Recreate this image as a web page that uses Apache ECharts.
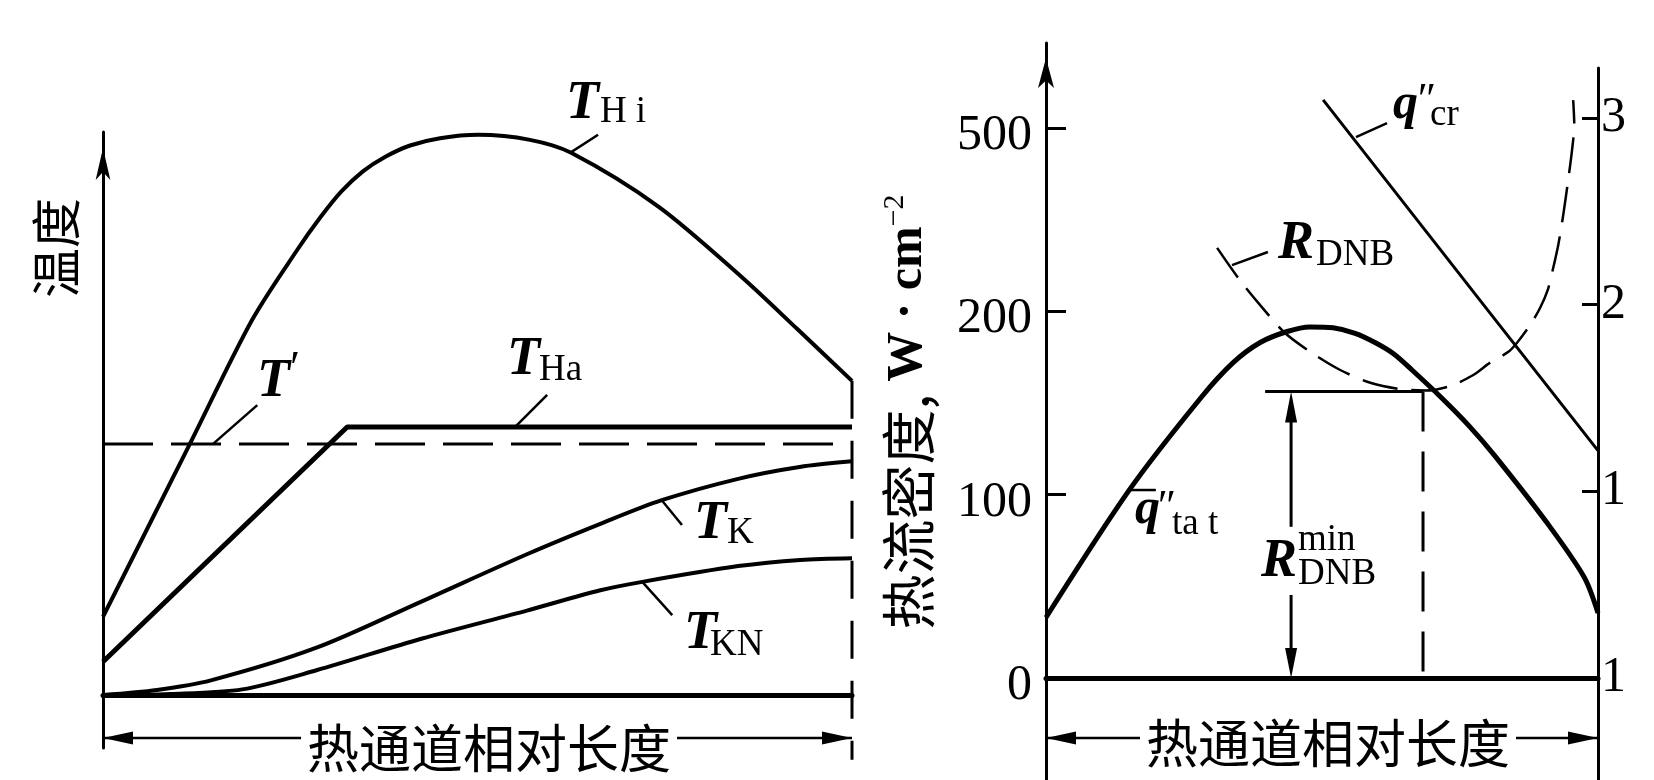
<!DOCTYPE html>
<html>
<head>
<meta charset="utf-8">
<script src="https://cdn.jsdelivr.net/npm/echarts@6/dist/echarts.min.js"></script>
<style>
  html, body { margin: 0; padding: 0; background: #fff; }
  #chart { width: 1654px; height: 780px; }
</style>
</head>
<body>
<div id="chart"></div>
<script>
// ================= DATA =================
// Left panel: x = relative length of hot channel (0..1), y = temperature (relative units, 0..100)
const T_Hi    = [[0,13.9],[0.116,44.6],[0.199,66.6],[0.259,79.0],[0.29,84.8],[0.318,89.4],[0.347,93.0],[0.377,95.6],[0.41,97.6],[0.45,98.9],[0.501,99.5],[0.57,98.6],[0.625,96.3],[0.742,86.7],[0.853,74.2],[0.927,65.0],[1,55.8]];
const T_Ha    = [[0,5.9],[0.326,47.6],[1,47.6]];
const T_prime = [[0,44.6],[1,44.6]];
const T_K     = [[0,0],[0.072,0.9],[0.144,2.6],[0.285,8.4],[0.425,16.6],[0.566,25.0],[0.664,30.4],[0.746,34.6],[0.848,38.4],[0.93,40.5],[1,41.5]];
const T_KN    = [[0,0],[0.09,0.2],[0.186,1.0],[0.285,4.4],[0.425,10.0],[0.566,15.0],[0.664,18.6],[0.72,20.1],[0.848,22.9],[0.931,24.0],[1,24.3]];
const T_endBottom = -11.5;            // bottom end of the dashed outlet line

// Right panel: heat flux in W·cm^-2 (broken scale with equally spaced ticks)
const qTickValues = [0, 100, 200, 500];
const qTickLabels = ['0', '100', '200', '500'];
const q_tat = [[0,33],[0.152,103],[0.281,153],[0.339,172],[0.388,183],[0.437,189],[0.478,191.5],[0.52,191],[0.56,188],[0.596,183],[0.629,177],[0.663,168],[0.716,153],[0.768,137],[0.815,120.5],[0.908,84.5],[0.975,55],[1,35.5]];
const q_cr  = [[0.502,546],[0.802,200],[1,124]];

// DNB ratio on the right-hand axis (values in tick positions, labels as printed)
const rTickLabels = ['1', '1', '2', '3'];
const R_DNB = [[0.310,2.304],[0.351,2.132],[0.391,1.987],[0.433,1.848],[0.482,1.741],[0.533,1.650],[0.589,1.580],[0.641,1.548],[0.687,1.540],[0.732,1.564],[0.774,1.623],[0.804,1.688],[0.837,1.746],[0.853,1.795],[0.877,1.891],[0.895,1.982],[0.909,2.079],[0.918,2.186],[0.928,2.320],[0.937,2.480],[0.946,2.668],[0.953,2.829],[0.957,2.962],[0.955,3.096]];
const R_min_value = 1.535;
const R_min_x = 0.683;
const R_min_bracketStart = 0.397;
const R_min_arrowX = 0.444;

// Map a heat flux value to the equally spaced tick position of the broken axis
function qToAxis(w) {
  for (let i = 0; i < qTickValues.length - 1; i++) {
    const a = qTickValues[i], b = qTickValues[i + 1];
    if (w <= b || i === qTickValues.length - 2) return i + (w - a) / (b - a);
  }
  return 0;
}

// ================= CHART =================
const chart = echarts.init(document.getElementById('chart'), null, { renderer: 'canvas' });
const BLACK = '#000';
const SERIF = '"Liberation Serif", "DejaVu Serif", serif';
const CJK = '"Noto Sans CJK SC", "Noto Sans CJK JP", sans-serif';

function lineSer(name, data, idx, width, extra) {
  return Object.assign({
    name, type: 'line', data, xAxisIndex: idx, yAxisIndex: idx,
    symbol: 'none', showSymbol: false, clip: false, silent: true,
    lineStyle: { color: BLACK, width: width }
  }, extra || {});
}

const hiddenX = (gi, showLine) => ({
  type: 'value', gridIndex: gi, min: 0, max: 1, show: true,
  axisLine: { show: !!showLine, onZero: true, lineStyle: { color: BLACK, width: 5 } },
  axisTick: { show: false }, axisLabel: { show: false }, splitLine: { show: false }
});

const option = {
  animation: false,
  backgroundColor: '#fff',
  grid: [
    { left: 103, right: 802, top: 132, bottom: 32, outerBoundsMode: 'none', containLabel: false },
    { left: 1046, right: 56, top: 43, bottom: 0, outerBoundsMode: 'none', containLabel: false },
    { left: 1046, right: 56, top: 68, bottom: 0, outerBoundsMode: 'none', containLabel: false }
  ],
  xAxis: [hiddenX(0, true), hiddenX(1, true), hiddenX(2, false)],
  yAxis: [
    {
      type: 'value', gridIndex: 0, min: -9.41, max: 100,
      axisLine: { show: true, onZero: false, symbol: ['none', 'arrow'], symbolSize: [11, 32], symbolOffset: [0, -16],
                  lineStyle: { color: BLACK, width: 3 } },
      axisTick: { show: false }, axisLabel: { show: false }, splitLine: { show: false }
    },
    {
      type: 'value', gridIndex: 1, min: -0.5564, max: 3.4637,
      axisLine: { show: true, onZero: false, symbol: ['none', 'arrow'], symbolSize: [12, 30], symbolOffset: [0, -15],
                  lineStyle: { color: BLACK, width: 3 } },
      axisTick: { show: true, inside: true, length: 20, customValues: [0, 1, 2, 3],
                  lineStyle: { color: BLACK, width: 3 } },
      axisLabel: { show: true, customValues: [0, 1, 2, 3], margin: 14,
                   formatter: v => qTickLabels[Math.round(v)],
                   fontFamily: SERIF, fontSize: 50, color: BLACK,
                   verticalAlign: 'top', lineHeight: 16 },
      splitLine: { show: false }
    },
    {
      type: 'value', gridIndex: 2, position: 'right', min: -0.5464, max: 3.2678,
      axisLine: { show: true, onZero: false, lineStyle: { color: BLACK, width: 3 } },
      axisTick: { show: true, inside: true, length: 16, customValues: [0, 1, 2, 3],
                  lineStyle: { color: BLACK, width: 3 } },
      axisLabel: { show: true, customValues: [0, 1, 2, 3], margin: 3,
                   formatter: v => rTickLabels[Math.round(v)],
                   fontFamily: SERIF, fontSize: 50, color: BLACK },
      splitLine: { show: false }
    }
  ],
  series: [
    lineSer('T_Hi', T_Hi, 0, 4, { smooth: 0.3 }),
    lineSer('T_Ha', T_Ha, 0, 5),
    lineSer("T'", T_prime, 0, 3, { lineStyle: { color: BLACK, width: 3, type: [50, 18] } }),
    lineSer('T_K', T_K, 0, 4, { smooth: 0.3 }),
    lineSer('T_KN', T_KN, 0, 4, { smooth: 0.3 }),
    lineSer('outlet', [[1, T_Hi[T_Hi.length - 1][1]], [1, T_endBottom]], 0, 3,
            { lineStyle: { color: BLACK, width: 3, type: [38, 22] } }),

    lineSer("q''tat", q_tat.map(p => [p[0], qToAxis(p[1])]), 1, 5, { smooth: 0.3 }),
    lineSer("q''cr", q_cr.map(p => [p[0], qToAxis(p[1])]), 1, 3),

    lineSer('R_DNB', R_DNB, 2, 2.5, { smooth: 0.3, lineStyle: { color: BLACK, width: 2.5, type: [36, 14] } }),
    lineSer('R_min top', [[R_min_bracketStart, R_min_value], [R_min_x, R_min_value]], 2, 3),
    lineSer('R_min line', [[R_min_x, R_min_value], [R_min_x, 0]], 2, 3,
            { lineStyle: { color: BLACK, width: 3, type: [40, 20] } })
  ]
};
chart.setOption(option);

// ================= ANNOTATIONS (anchored in data units) =================
const P = (g, pt) => chart.convertToPixel({ xAxisIndex: g, yAxisIndex: g }, pt);

const leaders = [
  { g: 0, a: [0.6235, 96.3], b: [0.661, 99.5] },
  { g: 0, a: [0.147, 44.6], b: [0.206, 51.5] },
  { g: 0, a: [0.550, 47.6], b: [0.593, 53.3] },
  { g: 0, a: [0.746, 34.6], b: [0.773, 30.2] },
  { g: 0, a: [0.720, 20.1], b: [0.760, 14.2] },
  { g: 2, a: [0.5616, 2.898], b: [0.6178, 2.973] },
  { g: 2, a: [0.337, 2.212], b: [0.402, 2.282] },
  { g: 2, a: [0.152, 1.007], b: [0.199, 1.007] }
];

// label parts: main italic letter + sub/superscripts (offsets in px from the main letter's baseline)
const labels = [
  { g: 0, at: [0.618, 101.78], parts: [['T', 'main', 0, 0], ['H i', 'sub', 34, 3]] },
  { g: 0, at: [0.2056, 52.40], parts: [['T', 'main', 0, 0], ['\u2032', 'prime', 33, -13]] },
  { g: 0, at: [0.5394, 56.31], parts: [['T', 'main', 0, 0], ['Ha', 'sub', 32, 5]] },
  { g: 0, at: [0.7891, 27.18], parts: [['T', 'main', 0, 0], ['K', 'sub', 33, 4]] },
  { g: 0, at: [0.7757, 7.64],  parts: [['T', 'main', 0, 0], ['KN', 'sub', 26, 6]] },
  { g: 2, at: [0.6286, 2.9785], parts: [['q', 'q', 0, 0], ['\u2033', 'prime2', 22, -6], ['cr', 'sub', 37, 6]] },
  { g: 2, at: [0.4203, 2.2286], parts: [['R', 'main', 0, 0], ['DNB', 'sub', 38, 6]] },
  { g: 2, at: [0.1612, 0.8089], parts: [['q', 'q', 0, 0], ['\u2033', 'prime2', 20, -4], ['ta t', 'sub', 37, 10]] },
  { g: 2, at: [0.3895, 0.5250], parts: [['R', 'main', 0, 0], ['min', 'sub', 37, -27], ['DNB', 'sub', 37, 7]] }
];
const partStyle = {
  main:   { fontSize: 54, fontStyle: 'italic', fontWeight: 'bold' },
  q:      { fontSize: 50, fontStyle: 'italic', fontWeight: 'bold' },
  sub:    { fontSize: 37, fontStyle: 'normal', fontWeight: 'normal' },
  prime:  { fontSize: 46, fontStyle: 'normal', fontWeight: 'normal' },
  prime2: { fontSize: 44, fontStyle: 'italic', fontWeight: 'normal' }
};

const gfx = [];
function seg(p1, p2, w, dash) {
  gfx.push({ type: 'line', silent: true, z: 20,
    shape: { x1: p1[0], y1: p1[1], x2: p2[0], y2: p2[1] },
    style: { stroke: BLACK, lineWidth: w, lineDash: dash || null } });
}
function arrowHead(tip, from, len, hw) {
  const dx = tip[0] - from[0], dy = tip[1] - from[1];
  const L = Math.hypot(dx, dy) || 1, ux = dx / L, uy = dy / L;
  const bx = tip[0] - ux * len, by = tip[1] - uy * len;
  gfx.push({ type: 'polygon', silent: true, z: 21,
    shape: { points: [[tip[0], tip[1]], [bx - uy * hw, by + ux * hw], [bx + uy * hw, by - ux * hw]] },
    style: { fill: BLACK } });
}
function txt(x, y, text, st, extra) {
  gfx.push(Object.assign({ type: 'text', silent: true, z: 22, x, y,
    style: Object.assign({ text, fill: BLACK, fontFamily: SERIF, align: 'left', verticalAlign: 'middle' }, st) }, extra || {}));
}

leaders.forEach(l => seg(P(l.g, l.a), P(l.g, l.b), 2.5));

labels.forEach(lb => {
  const base = P(lb.g, lb.at);
  lb.parts.forEach(([t, kind, dx, dy]) => {
    const s = partStyle[kind];
    // place the alphabetic baseline at base+dy (canvas 'middle' sits ~0.34em above it)
    txt(base[0] + dx, base[1] + dy - 0.34 * s.fontSize, t, s);
  });
});

// bottom double arrows with titles
const title = '热通道相对长度';
const titleSize = 52;
const tw = title.length * titleSize;
function lengthArrow(g, yVal, centerX, textDy) {
  const L = P(g, [0, yVal]), R = P(g, [1, yVal]);
  const c = P(g, [centerX, yVal]);
  const gap = 6;
  seg(L, [c[0] - tw / 2 - gap, L[1]], 2.5);
  seg([c[0] + tw / 2 + gap, R[1]], R, 2.5);
  arrowHead(L, [L[0] + 10, L[1]], 30, 6.5);
  arrowHead(R, [R[0] - 10, R[1]], 30, 6.5);
  txt(c[0], c[1] + textDy, title, { fontFamily: CJK, fontSize: titleSize, align: 'center' });
}
lengthArrow(0, -7.64, 0.5154, 10);
lengthArrow(2, -0.3214, 0.5109, 5);

// R_DNB^min double arrow (gap around its label)
(function () {
  const top = P(2, [R_min_arrowX, R_min_value]);
  const bot = P(2, [R_min_arrowX, 0]);
  const gapTop = P(2, [R_min_arrowX, 0.81])[1];
  const gapBot = P(2, [R_min_arrowX, 0.445])[1];
  seg([top[0], top[1] + 20], [top[0], gapTop], 3);
  seg([bot[0], gapBot], [bot[0], bot[1] - 20], 3);
  arrowHead(top, [top[0], top[1] + 10], 31, 6);
  arrowHead(bot, [bot[0], bot[1] - 10], 30, 6);
})();

// axis titles (rotated, reading bottom-to-top)
(function () {
  const a = P(0, [-0.0628, 79.4]);
  txt(a[0], a[1], '温度', { fontFamily: CJK, fontSize: 50, align: 'center' }, { rotation: Math.PI / 2 });
  const b = P(2, [-0.25, 1.425]);
  gfx.push({ type: 'text', silent: true, z: 22, x: b[0], y: b[1], rotation: Math.PI / 2,
    style: {
      text: '{cn|热流密度,}{w| W · cm}{sup|−2}',
      align: 'center', verticalAlign: 'middle', fill: BLACK,
      rich: {
        cn:  { fontFamily: CJK, fontSize: 55, fill: BLACK },
        w:   { fontFamily: SERIF, fontWeight: 'bold', fontSize: 50, fill: BLACK },
        sup: { fontFamily: SERIF, fontSize: 30, fill: BLACK, verticalAlign: 'top' }
      }
    } });
})();

chart.setOption({ graphic: { elements: gfx } });
</script>
</body>
</html>
